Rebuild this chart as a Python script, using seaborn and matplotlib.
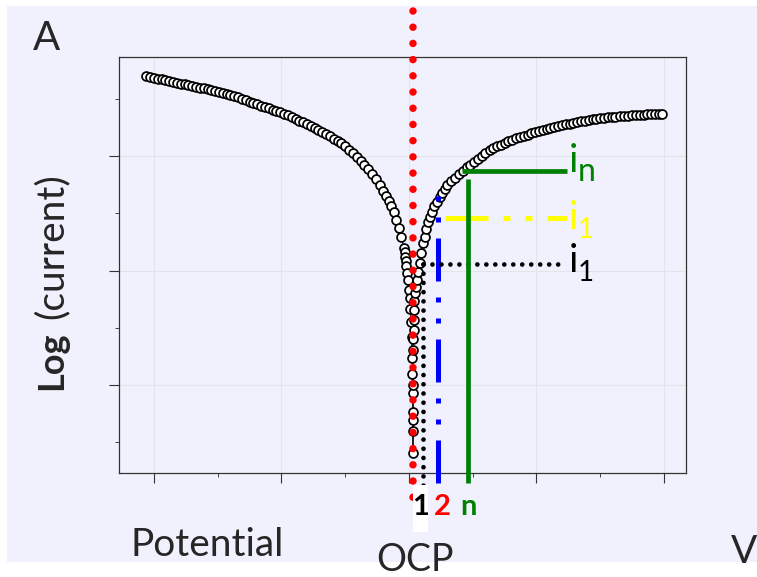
import numpy as np
import pandas as pd
import matplotlib
matplotlib.use("Agg")
import matplotlib.pyplot as plt
from matplotlib.patches import Rectangle
import seaborn as sns

# polarisation sweep, cathodic branch
potential_cathodic = [
    -0.06, -0.03, 0.00, 0.03, 0.06, 0.09, 0.12, 0.15, 0.18, 0.21,
    0.24, 0.27, 0.30, 0.33, 0.36, 0.39, 0.42, 0.45, 0.48, 0.51,
    0.54, 0.57, 0.60, 0.63, 0.66, 0.69, 0.72, 0.75, 0.78, 0.81,
    0.84, 0.87, 0.90, 0.93, 0.96, 0.99, 1.02, 1.05, 1.08, 1.11,
    1.14, 1.17, 1.20, 1.23, 1.26, 1.29, 1.32, 1.35, 1.38, 1.41,
    1.44, 1.47, 1.50, 1.53, 1.56, 1.59, 1.62, 1.65, 1.68, 1.71,
    1.74, 1.77, 1.80, 1.82, 1.84, 1.86, 1.88, 1.90, 1.92, 1.94,
    1.96, 1.965, 1.97, 1.975, 1.98, 1.985, 1.99, 2.00, 2.008, 2.012,
    2.016, 2.020, 2.024, 2.027, 2.031, 2.031, 2.031, 2.031]
logi_cathodic = [
    3.700, 3.692, 3.685, 3.677, 3.669, 3.661, 3.653, 3.646, 3.639, 3.632,
    3.625, 3.618, 3.611, 3.604, 3.597, 3.590, 3.584, 3.575, 3.566, 3.557,
    3.548, 3.539, 3.530, 3.521, 3.512, 3.500, 3.488, 3.476, 3.465, 3.453,
    3.441, 3.429, 3.417, 3.405, 3.393, 3.381, 3.370, 3.357, 3.342, 3.326,
    3.310, 3.294, 3.278, 3.262, 3.245, 3.227, 3.209, 3.190, 3.171, 3.152,
    3.133, 3.112, 3.084, 3.054, 3.023, 2.992, 2.960, 2.924, 2.884, 2.844,
    2.800, 2.750, 2.696, 2.655, 2.610, 2.562, 2.510, 2.440, 2.370, 2.290,
    2.200, 2.160, 2.120, 2.080, 2.040, 1.980, 1.920, 1.830, 1.760, 1.660,
    1.550, 1.420, 1.240, 1.100, 0.930, 0.760, 0.600, 0.410]

# anodic branch
potential_anodic = [
    2.031, 2.031, 2.031, 2.035, 2.039, 2.039, 2.039, 2.043, 2.047, 2.055,
    2.063, 2.074, 2.086, 2.098, 2.110, 2.122, 2.135, 2.149, 2.165, 2.180,
    2.200, 2.220, 2.240, 2.260, 2.280, 2.300, 2.330, 2.360, 2.390, 2.420,
    2.455, 2.480, 2.510, 2.540, 2.570, 2.600, 2.635, 2.660, 2.690, 2.720,
    2.750, 2.780, 2.810, 2.840, 2.871, 2.900, 2.930, 2.960, 2.990, 3.020,
    3.050, 3.080, 3.110, 3.140, 3.170, 3.200, 3.230, 3.260, 3.290, 3.320,
    3.350, 3.380, 3.410, 3.440, 3.470, 3.500, 3.530, 3.560, 3.590, 3.620,
    3.655, 3.690, 3.720, 3.750, 3.780, 3.810, 3.840, 3.870, 3.900, 3.930,
    3.960, 3.984]
logi_anodic = [
    0.690, 1.000, 1.310, 1.400, 1.480, 1.570, 1.655, 1.730, 1.800, 1.860,
    1.917, 1.990, 2.066, 2.150, 2.240, 2.290, 2.360, 2.424, 2.470, 2.510,
    2.560, 2.598, 2.640, 2.680, 2.716, 2.747, 2.780, 2.810, 2.845, 2.872,
    2.904, 2.925, 2.950, 2.975, 3.000, 3.025, 3.052, 3.068, 3.085, 3.100,
    3.115, 3.130, 3.143, 3.155, 3.166, 3.177, 3.188, 3.199, 3.210, 3.220,
    3.230, 3.240, 3.248, 3.256, 3.263, 3.270, 3.277, 3.284, 3.291, 3.298,
    3.304, 3.310, 3.316, 3.321, 3.325, 3.329, 3.333, 3.337, 3.341, 3.345,
    3.349, 3.352, 3.354, 3.356, 3.358, 3.360, 3.362, 3.364, 3.365, 3.366,
    3.367, 3.367]

# open circuit potential and the three steps (1, 2, n)
ocp = 2.031
step_potential = [2.110, 2.231, 2.463]
step_current = [2.057, 2.459, 2.873]
step_current_start = [2.110, 2.282, 2.416]   # where the horizontal marks start
step_potential_top = [2.057, 2.651, 2.799]   # where the vertical marks start
mark_end_potential = [3.224, 3.239, 3.239]
mark_end_current = [0.109, 0.144, 0.144]

df = pd.DataFrame({
    "potential": potential_cathodic + potential_anodic,
    "log_current": logi_cathodic + logi_anodic,
})

sns.set_style("ticks")
plt.rcParams["font.family"] = ["Lato", "DejaVu Sans"]

W, H = 757, 577
BG = "#F1F1FE"


def fxy(px, py):
    return px / W, 1 - py / H


fig = plt.figure(figsize=(W / 100, H / 100), dpi=100)
fig.patch.set_facecolor("white")
fig.add_artist(Rectangle(fxy(7, 562), 750 / W, 556 / H, transform=fig.transFigure,
                         facecolor=BG, edgecolor="none", zorder=-1))

ax = fig.add_axes([119 / W, 104 / H, 567 / W, 416 / H])
ax.set_facecolor(BG)

sns.lineplot(data=df, x="potential", y="log_current", sort=False, estimator=None,
             ax=ax, color="#222222", lw=0.9, marker="o", markersize=6.4,
             markerfacecolor="white", markeredgecolor="black",
             markeredgewidth=1.25, zorder=2)

# yellow (step 2 current)
ax.plot([step_current_start[1], mark_end_potential[1]], [step_current[1]] * 2,
        color="#FFFF00", lw=3.6, ls=(0, (8.6, 3, 1.4, 3, 1.4, 3)),
        dash_capstyle="butt", clip_on=False, zorder=3)
# blue (step 2 potential)
ax.plot([step_potential[1]] * 2, [step_potential_top[1], mark_end_current[1]],
        color="#0000FF", lw=3.6, ls=(0, (1, 3.2, 1, 3.2, 8.6, 3.2)),
        dash_capstyle="butt", clip_on=False, zorder=4)
# black dotted (step 1)
ax.plot([step_potential[0], mark_end_potential[0]], [step_current[0]] * 2,
        color="black", lw=3.4, ls=(0, (0.001, 1.9)), dash_capstyle="round",
        clip_on=False, zorder=5)
ax.plot([step_potential[0]] * 2, [step_potential_top[0], mark_end_current[0]],
        color="black", lw=3.4, ls=(0, (0.001, 1.95)), dash_capstyle="round",
        clip_on=False, zorder=5)
# green (step n)
ax.plot([step_current_start[2], mark_end_potential[2]], [step_current[2]] * 2,
        color="#008000", lw=3.4, solid_capstyle="butt", clip_on=False, zorder=6)
ax.plot([step_potential[2]] * 2, [step_potential_top[2], mark_end_current[2]],
        color="#008000", lw=3.4, solid_capstyle="butt", clip_on=False, zorder=6)
# red dotted OCP
ax.plot([ocp, ocp], [4.266, -0.02], color="#FF0000", lw=5.4,
        ls=(0, (0.001, 2.16)), dash_capstyle="round", clip_on=False, zorder=7)

ax.set_xlim(-0.2745, 4.173)
ax.set_ylim(0.2314, 3.865)
ax.set_xticks(range(5))
ax.set_xticks(np.arange(0.5, 4, 1), minor=True)
ax.set_yticks([1, 2, 3])
ax.set_yticks([0.5, 1.5, 2.5, 3.5], minor=True)
ax.tick_params(labelbottom=False, labelleft=False, direction="out",
               color="#333333", width=0.8)
ax.tick_params(which="major", length=7.2)
ax.tick_params(which="minor", length=3.2)
ax.grid(True, which="major", color="#E3E3EA", lw=0.8)
ax.set_axisbelow(True)
ax.set_xlabel("")
ax.set_ylabel("")
for sp in ax.spines.values():
    sp.set_color("#333333")
    sp.set_linewidth(0.9)

# white box behind the "1"
fig.add_artist(Rectangle(fxy(413, 532), 15 / W, 47 / H, transform=fig.transFigure,
                         facecolor="white", edgecolor="none", zorder=3))

fig.text(*fxy(33, 50), "A", fontsize=29, va="baseline", ha="left")
fig.text(*fxy(130, 556), "Potential", fontsize=28, va="baseline", ha="left")
fig.text(*fxy(376, 571), "OCP", fontsize=27, va="baseline", ha="left")
fig.text(*fxy(731, 563), "V", fontsize=28, va="baseline", ha="left")
fig.text(*fxy(52, 390), "Log", fontsize=26, fontweight="bold", rotation=90,
         ha="center", va="bottom")
fig.text(*fxy(52, 173), "(current)", fontsize=28, rotation=90,
         ha="center", va="top")

for px, lab, col in [(421, "1", "black"), (442, "2", "#FF0000"), (468, "n", "#008000")]:
    fig.text(*fxy(px, 515), lab, fontsize=21, fontweight="bold", color=col,
             ha="center", va="baseline", zorder=4)

for base, sub, col, subsize in [(272, "1", "black", 20), (229, "1", "#FFFF00", 20),
                                (172, "n", "#008000", 23)]:
    fig.text(*fxy(569, base), "i", fontsize=28, color=col, va="baseline", ha="left")
    fig.text(*fxy(578, base + 9), sub, fontsize=subsize, color=col,
             va="baseline", ha="left")

fig.savefig("out.png", dpi=100, facecolor="white")
